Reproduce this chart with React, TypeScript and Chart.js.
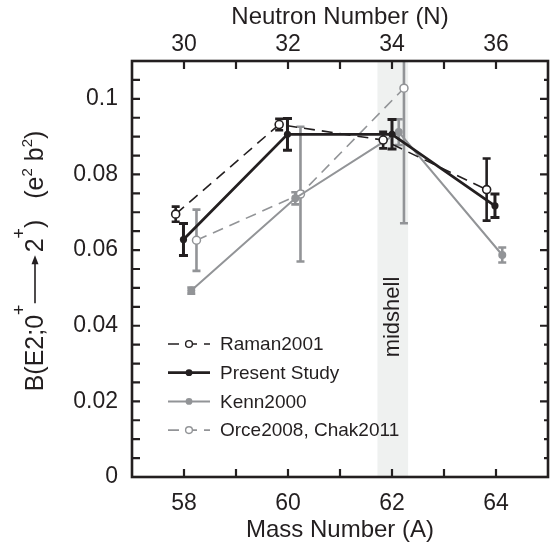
import React, { useEffect, useRef } from "react";
import { Chart, registerables } from "chart.js";

Chart.register(...registerables);

// ---------- data ----------
const seriesNames = ["Raman2001", "Present Study", "Kenn2000", "Orce2008, Chak2011"];

const ramanA = [57.84, 59.83, 61.83, 63.82];
const ramanB = [0.0695, 0.0932, 0.0891, 0.076];
const ramanErr = [0.002, 0.0015, 0.0022, 0.0082];

const presentA = [57.99, 59.99, 62.0, 63.98];
const presentB = [0.0628, 0.0906, 0.0906, 0.0717];
const presentErr = [0.0042, 0.0042, 0.0039, 0.0031];

const kennA = [58.14, 60.14, 62.13, 64.12];
const kennB = [0.0493, 0.0737, 0.0912, 0.0587];
const kennErr = [0.0008, 0.0016, 0.0034, 0.002];

const orceA = [58.24, 60.24, 62.23];
const orceB = [0.0626, 0.0748, 0.1028];
const orceErr = [0.0081, 0.0178, 0.0357];

const massTicks = [58, 60, 62, 64];
const neutronTicks = [30, 32, 34, 36];
const yTickLabels = [0, 0.02, 0.04, 0.06, 0.08, 0.1];
const midshellRange = [61.72, 62.31];
const midshellLabel = "midshell";

// ---------- style ----------
const INK = "#231f20";
const GREY = "#929497";
const BAND = "#eff1f0";
const FONT = "'Liberation Sans', Arial, sans-serif";

const pts = (xs: number[], ys: number[]) => xs.map((x, i) => ({ x, y: ys[i] }));

const datasets: any[] = [
  {
    label: seriesNames[0],
    data: pts(ramanA, ramanB),
    errors: ramanErr,
    borderColor: INK,
    borderWidth: 1.6,
    borderDash: [11, 7],
    pointRadius: 4,
    pointBorderWidth: 1.6,
    pointBackgroundColor: "#ffffff",
    pointBorderColor: INK,
    errColor: INK,
    errWidth: 2.6,
    cap: 4,
    order: 1,
    legendMarker: "open",
  },
  {
    label: seriesNames[1],
    data: pts(presentA, presentB),
    errors: presentErr,
    borderColor: INK,
    borderWidth: 2.8,
    pointRadius: 3.6,
    pointBorderWidth: 0,
    pointBackgroundColor: INK,
    pointBorderColor: INK,
    errColor: INK,
    errWidth: 3,
    cap: 4.5,
    order: 0,
    legendMarker: "filled",
  },
  {
    label: seriesNames[2],
    data: pts(kennA, kennB),
    errors: kennErr,
    borderColor: GREY,
    borderWidth: 2,
    pointRadius: 4,
    pointBorderWidth: 0,
    pointBackgroundColor: GREY,
    pointBorderColor: GREY,
    errColor: GREY,
    errWidth: 2.6,
    cap: 4,
    order: 2,
    legendMarker: "filled",
  },
  {
    label: seriesNames[3],
    data: pts(orceA, orceB),
    errors: orceErr,
    borderColor: GREY,
    borderWidth: 1.6,
    borderDash: [11, 7],
    pointRadius: 4,
    pointBorderWidth: 1.5,
    pointBackgroundColor: "#ffffff",
    pointBorderColor: GREY,
    errColor: GREY,
    errWidth: 2.6,
    cap: 4,
    order: 3,
    legendMarker: "open",
  },
];

const decor = {
  id: "decor",
  beforeDatasetsDraw(chart: any) {
    const { ctx, chartArea: ca, scales } = chart;
    const xs = scales.x;
    const ys = scales.y;
    ctx.save();
    // midshell band
    const x0 = xs.getPixelForValue(midshellRange[0]);
    const x1 = xs.getPixelForValue(midshellRange[1]);
    ctx.fillStyle = BAND;
    ctx.fillRect(x0, ca.top, x1 - x0, ca.bottom - ca.top);
    // midshell label
    ctx.save();
    ctx.translate((x0 + x1) / 2, ca.top + 256);
    ctx.rotate(-Math.PI / 2);
    ctx.font = `22px ${FONT}`;
    ctx.fillStyle = INK;
    ctx.textAlign = "center";
    ctx.textBaseline = "middle";
    ctx.fillText(midshellLabel, 0, 0);
    ctx.restore();
    // error bars
    ctx.beginPath();
    ctx.rect(ca.left, ca.top, ca.right - ca.left, ca.bottom - ca.top);
    ctx.clip();
    [3, 2, 0, 1].forEach((di) => {
      const ds = chart.data.datasets[di];
      ctx.strokeStyle = ds.errColor;
      ctx.lineWidth = ds.errWidth;
      ds.data.forEach((p: any, j: number) => {
        const e = ds.errors[j];
        const px = xs.getPixelForValue(p.x);
        const t = ys.getPixelForValue(p.y + e);
        const b = ys.getPixelForValue(p.y - e);
        ctx.beginPath();
        ctx.moveTo(px, t);
        ctx.lineTo(px, b);
        ctx.moveTo(px - ds.cap, t);
        ctx.lineTo(px + ds.cap, t);
        ctx.moveTo(px - ds.cap, b);
        ctx.lineTo(px + ds.cap, b);
        ctx.stroke();
      });
    });
    ctx.restore();
  },
  afterDraw(chart: any) {
    const { ctx, chartArea: ca, scales } = chart;
    const xs = scales.x;
    const ys = scales.y;
    ctx.save();
    // frame
    ctx.strokeStyle = INK;
    ctx.lineWidth = 2.6;
    ctx.strokeRect(ca.left, ca.top, ca.right - ca.left, ca.bottom - ca.top);
    // ticks
    ctx.lineWidth = 2.2;
    ctx.beginPath();
    for (let a = Math.ceil(xs.min + 1); a < xs.max; a++) {
      const px = xs.getPixelForValue(a);
      ctx.moveTo(px, ca.bottom);
      ctx.lineTo(px, ca.bottom - 8);
      ctx.moveTo(px, ca.top);
      ctx.lineTo(px, ca.top + 8);
    }
    for (let k = 1; k * 0.005 < ys.max - 1e-9; k++) {
      const py = ys.getPixelForValue(k * 0.005);
      ctx.moveTo(ca.left, py);
      ctx.lineTo(ca.left + 8, py);
      ctx.moveTo(ca.right, py);
      ctx.lineTo(ca.right - (k % 4 === 0 ? 8 : 4), py);
    }
    ctx.stroke();

    // legend
    const lx0 = ca.left + 36;
    const lx1 = ca.left + 78;
    const mx = ca.left + 57;
    const tx = ca.left + 88;
    chart.data.datasets.forEach((ds: any, i: number) => {
      const ly = ca.top + 283 + i * 28.7;
      ctx.save();
      ctx.strokeStyle = ds.borderColor;
      ctx.lineWidth = ds.borderWidth;
      ctx.setLineDash(ds.borderDash || []);
      ctx.beginPath();
      ctx.moveTo(lx0, ly);
      ctx.lineTo(lx1, ly);
      ctx.stroke();
      ctx.setLineDash([]);
      ctx.beginPath();
      ctx.arc(mx, ly, 3.4, 0, Math.PI * 2);
      ctx.fillStyle = ds.pointBackgroundColor;
      ctx.fill();
      if (ds.legendMarker === "open") {
        ctx.lineWidth = 1.4;
        ctx.strokeStyle = ds.pointBorderColor;
        ctx.stroke();
      }
      ctx.font = `19px ${FONT}`;
      ctx.fillStyle = INK;
      ctx.textAlign = "left";
      ctx.textBaseline = "middle";
      ctx.fillText(ds.label, tx, ly + 1);
      ctx.restore();
    });

    // y axis title: B(E2;0+ --> 2+)  (e2 b2)
    ctx.save();
    ctx.translate(43, (ca.top + ca.bottom) / 2 - 8);
    ctx.rotate(-Math.PI / 2);
    ctx.fillStyle = INK;
    ctx.strokeStyle = INK;
    ctx.textAlign = "left";
    ctx.textBaseline = "alphabetic";
    const main = `25px ${FONT}`;
    const sup = `18px ${FONT}`;
    const sup2 = `15px ${FONT}`;
    const pieces: any[] = [
      { t: "B(E2;0", f: main, dy: 0 },
      { t: "+", f: sup, dy: -18 },
      { arrow: 48 },
      { t: "2", f: main, dy: 0 },
      { t: "+", f: sup, dy: -18 },
      { t: ")", f: main, dy: 0 },
      { t: "   (e", f: main, dy: 0 },
      { t: "2", f: sup2, dy: -11 },
      { t: " b", f: main, dy: 0 },
      { t: "2", f: sup2, dy: -11 },
      { t: ")", f: main, dy: 0 },
    ];
    let total = 0;
    pieces.forEach((p) => {
      if (p.arrow) {
        total += p.arrow + 4;
      } else {
        ctx.font = p.f;
        total += ctx.measureText(p.t).width;
      }
    });
    let cx = -total / 2;
    pieces.forEach((p) => {
      if (p.arrow) {
        const ay = -8;
        const s = cx + 1;
        const e = cx + 1 + p.arrow;
        ctx.lineWidth = 1.6;
        ctx.beginPath();
        ctx.moveTo(s, ay);
        ctx.lineTo(e - 6, ay);
        ctx.stroke();
        ctx.beginPath();
        ctx.moveTo(e, ay);
        ctx.lineTo(e - 9, ay - 3.5);
        ctx.lineTo(e - 9, ay + 3.5);
        ctx.closePath();
        ctx.fill();
        cx += p.arrow + 4;
      } else {
        ctx.font = p.f;
        ctx.fillText(p.t, cx, p.dy);
        cx += ctx.measureText(p.t).width;
      }
    });
    ctx.restore();
    ctx.restore();
  },
};

const labelFrom = (list: number[]) => (v: any) => {
  const hit = list.find((t) => Math.abs(t - Number(v)) < 1e-9);
  return hit === undefined ? "" : String(hit);
};

export default function App() {
  const ref = useRef<HTMLCanvasElement>(null);
  useEffect(() => {
    if (!ref.current) return;
    const chart = new Chart(ref.current, {
      type: "line",
      data: { datasets },
      options: {
        animation: false,
        responsive: false,
        devicePixelRatio: 1,
        layout: { padding: { left: 0, right: 11, top: 0, bottom: 0 } },
        plugins: { legend: { display: false }, tooltip: { enabled: false } },
        font: { family: FONT },
        scales: {
          x: {
            type: "linear",
            position: "bottom",
            min: 57,
            max: 65,
            grid: { display: false, drawTicks: false },
            border: { display: false },
            afterBuildTicks: (s: any) => {
              s.ticks = massTicks.map((v) => ({ value: v }));
            },
            afterFit: (s: any) => {
              s.height = 69;
            },
            ticks: {
              padding: 13,
              autoSkip: false,
              maxRotation: 0,
              color: INK,
              font: { size: 23, family: FONT },
              callback: labelFrom(massTicks),
            },
            title: {
              display: true,
              text: "Mass Number (A)",
              color: INK,
              font: { size: 24, family: FONT },
              padding: { top: 0, bottom: 1 },
            },
          },
          x2: {
            type: "linear",
            position: "top",
            min: 29,
            max: 37,
            grid: { display: false, drawTicks: false },
            border: { display: false },
            afterBuildTicks: (s: any) => {
              s.ticks = neutronTicks.map((v) => ({ value: v }));
            },
            afterFit: (s: any) => {
              s.height = 61;
            },
            ticks: {
              padding: 3,
              autoSkip: false,
              maxRotation: 0,
              color: INK,
              font: { size: 23, family: FONT },
              callback: labelFrom(neutronTicks),
            },
            title: {
              display: true,
              text: "Neutron Number (N)",
              color: INK,
              font: { size: 24, family: FONT },
              padding: { top: 3, bottom: 0 },
            },
          },
          y: {
            type: "linear",
            position: "left",
            min: 0,
            max: 0.11,
            grid: { display: false, drawTicks: false },
            border: { display: false },
            afterBuildTicks: (s: any) => {
              s.ticks = yTickLabels.map((v) => ({ value: v }));
            },
            afterFit: (s: any) => {
              s.width = 132;
            },
            ticks: {
              padding: 14,
              autoSkip: false,
              color: INK,
              font: { size: 23, family: FONT },
              callback: labelFrom(yTickLabels),
            },
          },
        },
      } as any,
      plugins: [decor],
    });
    return () => chart.destroy();
  }, []);
  return (
    <div style={{ position: "absolute", left: 0, top: 0, width: 559, height: 546, background: "#ffffff" }}>
      <canvas ref={ref} width={559} height={546} style={{ display: "block", width: 559, height: 546 }} />
    </div>
  );
}
